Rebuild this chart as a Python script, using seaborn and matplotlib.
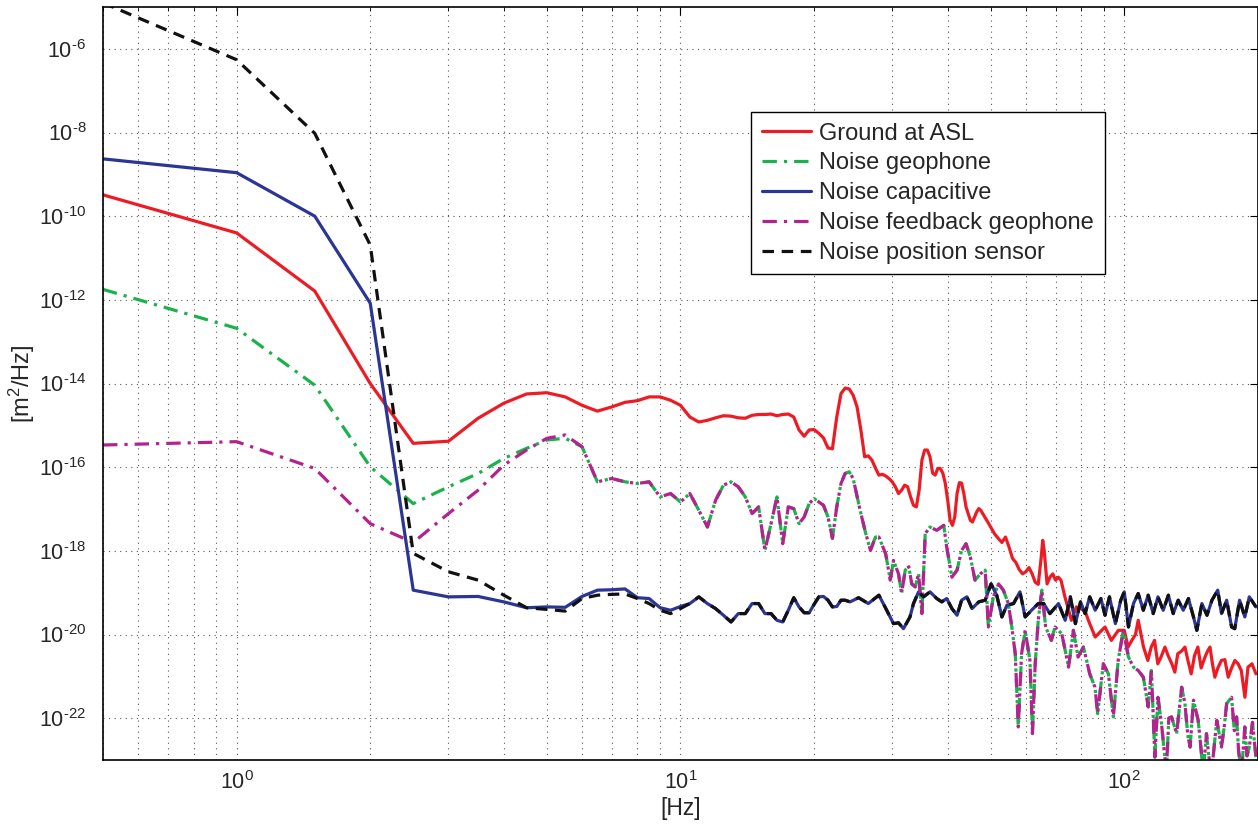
import numpy as np
import matplotlib
matplotlib.use("Agg")
import matplotlib.pyplot as plt
from matplotlib.ticker import LogLocator, NullLocator, NullFormatter, FuncFormatter
import seaborn as sns

# values are log10 of the PSD in m^2/Hz

# ground motion at ASL (red)
ground_f_low = [0.5, 1, 1.5, 2, 2.5, 3, 3.5, 4, 4.5, 5,
                5.5, 6, 6.5, 7, 7.5, 8, 8.5, 9, 9.5, 10,
                10.5, 11, 11.5, 12, 12.5, 13, 13.5, 14, 14.5, 15,
                15.5, 16, 16.5, 17, 17.5, 18, 18.5, 19, 19.5, 20,
                20.5, 21, 21.5, 22, 22.5, 23, 23.5, 24, 24.5, 25,
                25.5, 26, 26.5, 27, 27.5, 28, 28.5, 29, 29.5, 30,
                30.5, 31, 31.5, 32, 32.5, 33, 33.5, 34, 34.5, 35,
                35.5, 36, 36.5, 37, 37.5, 38, 38.5, 39, 39.5, 40,
                40.5, 41, 41.5, 42, 42.5, 43, 43.5, 44, 44.5, 45,
                45.5, 46, 46.5, 47, 47.5, 48, 48.5, 49, 49.5, 50]
ground_log_low = [-9.49, -10.40, -11.79, -14.00, -15.43, -15.38, -14.83, -14.47, -14.25, -14.22,
                  -14.32, -14.52, -14.66, -14.56, -14.45, -14.41, -14.32, -14.32, -14.40, -14.52,
                  -14.80, -14.92, -14.88, -14.82, -14.77, -14.78, -14.82, -14.83, -14.76, -14.74,
                  -14.74, -14.73, -14.77, -14.74, -14.73, -14.80, -15.11, -15.26, -15.11, -15.10,
                  -15.19, -15.30, -15.54, -15.56, -14.80, -14.24, -14.11, -14.13, -14.28, -14.56,
                  -15.11, -15.75, -15.73, -15.83, -16.02, -16.19, -16.17, -16.21, -16.27, -16.35,
                  -16.47, -16.63, -16.55, -16.43, -16.47, -16.71, -16.91, -16.95, -16.55, -15.83,
                  -15.59, -15.59, -15.75, -16.14, -16.19, -16.03, -16.03, -16.14, -16.38, -16.78,
                  -17.26, -17.39, -17.19, -16.63, -16.37, -16.38, -16.63, -16.95, -17.11, -17.27,
                  -17.31, -17.19, -17.07, -16.99, -17.03, -17.11, -17.19, -17.27, -17.35, -17.43]
ground_f_high = [51, 52, 53, 54, 55, 56, 57, 58, 59, 60,
                 61, 62, 63, 64, 65, 65.5, 66, 67, 68, 69,
                 70, 71, 72, 73.5, 76, 78, 81.5, 83, 86, 90.5,
                 93.5, 97, 100, 102, 104, 106, 107.5, 110.5, 113, 115,
                 117, 119, 121, 123.5, 125.5, 128, 130, 132, 134.5, 137,
                 139, 141.5, 144, 146.5, 149, 152, 154, 156, 158, 160,
                 162.5, 165.5, 168.5, 171.5, 174.5, 177.5, 180.5, 183.5, 187, 190,
                 194, 198]
ground_log_high = [-17.59, -17.70, -17.80, -17.67, -17.91, -18.18, -18.28, -18.45, -18.55, -18.50,
                   -18.40, -18.55, -18.75, -18.80, -18.15, -17.75, -17.99, -18.79, -18.63, -18.55,
                   -18.70, -18.63, -18.70, -19.10, -19.66, -19.34, -19.42, -19.66, -20.06, -19.82,
                   -20.14, -19.90, -19.90, -20.30, -20.14, -20.00, -19.66, -20.30, -20.62, -20.30,
                   -20.14, -20.70, -20.54, -20.30, -20.50, -20.70, -20.90, -20.46, -20.40, -20.30,
                   -20.60, -20.94, -20.50, -20.30, -20.80, -20.54, -20.40, -20.30, -20.70, -21.02,
                   -20.80, -20.62, -20.60, -21.02, -20.80, -20.62, -20.70, -20.86, -21.50, -20.78,
                   -20.70, -20.94]

# geophone noise (green) and feedback geophone noise (magenta): same above 6 Hz
geo_f_low = [0.5, 1, 1.5, 2, 2.5, 3, 3.5, 4, 4.5, 5, 5.5]
geo_log_low = [-11.75, -12.68, -14.04, -15.99, -16.87, -16.47, -16.15, -15.79, -15.55, -15.35, -15.31]
fb_log_low = [-15.47, -15.39, -16.03, -17.35, -17.80, -17.11, -16.55, -15.95, -15.59, -15.31, -15.23]
geo_f_high = [6, 6.5, 7, 7.5, 8, 8.5, 9, 9.5, 10, 10.5,
              11, 11.5, 12, 12.5, 13, 13.5, 14, 14.5, 15, 15.5,
              16, 16.5, 17, 17.5, 18, 18.5, 19, 19.5, 20, 20.5,
              21, 21.5, 22, 22.5, 23, 23.5, 24, 24.5, 25.4, 26.1,
              26.8, 27.5, 28, 29, 29.7, 30.2, 31, 31.5, 32.1, 32.7,
              33.2, 33.8, 34.4, 35, 35.6, 36.5, 37.8, 39.2, 39.8, 40.9,
              42, 43, 44, 45, 46.1, 47.4, 48.6, 49.4, 50.7, 52.1,
              53.4, 54.8, 55.8, 56.8, 57.7, 58.7, 59.8, 61.3, 62.1, 63,
              64, 65.2, 66.5, 68.5, 69.8, 72.3, 74.9, 76.8, 78.7, 80.9,
              83.6, 85.9, 87.1, 89.7, 92.1, 94.5, 96.9, 99.5, 102.2, 104.9,
              107.5, 110.4, 113.2, 115.1, 117.2, 119.1, 121.3, 124.4, 126, 127.8,
              131.2, 134.7, 137, 139, 140.7, 143.2, 146.7, 148.5, 150.6, 153.2,
              155, 157.3, 161.6, 165.6, 168, 170.1, 174.5, 177, 179.1, 181,
              183.7, 186.9, 189, 191.3, 194.5, 198]
geo_log_high = [-15.51, -16.35, -16.27, -16.35, -16.39, -16.35, -16.71, -16.63, -16.83, -16.63,
                -17.03, -17.43, -16.79, -16.43, -16.35, -16.47, -16.71, -17.11, -16.95, -17.99,
                -17.35, -16.71, -17.83, -16.95, -16.99, -17.35, -17.19, -16.87, -16.75, -16.83,
                -16.91, -17.19, -17.70, -16.95, -16.39, -16.15, -16.11, -16.27, -17.03, -17.55,
                -17.99, -17.67, -17.67, -18.07, -18.70, -18.23, -18.55, -19.02, -18.46, -18.38,
                -18.79, -18.86, -18.55, -19.50, -17.59, -17.43, -17.51, -17.39, -17.91, -18.63,
                -18.46, -17.99, -17.83, -18.15, -18.70, -18.55, -18.46, -19.82, -19.10, -18.79,
                -18.94, -19.26, -19.82, -20.46, -22.21, -20.46, -19.90, -20.62, -22.37, -20.70,
                -19.66, -18.94, -19.82, -20.14, -19.82, -19.98, -20.78, -19.90, -20.54, -20.30,
                -20.94, -21.26, -21.89, -20.70, -20.94, -21.97, -20.62, -19.90, -20.54, -20.78,
                -20.86, -21.02, -21.73, -20.86, -22.93, -21.50, -22.13, -23.30, -22.00, -21.97,
                -22.37, -21.26, -21.65, -22.40, -22.69, -21.57, -22.05, -22.60, -23.30, -22.37,
                -22.90, -23.30, -22.05, -22.69, -22.20, -21.65, -21.50, -22.30, -21.97, -22.80,
                -23.30, -22.21, -22.90, -22.69, -22.10, -22.93]

# capacitive sensor noise (blue) and position sensor noise (black): same above 10 Hz
cap_f_low = [0.5, 1, 1.5, 2, 2.5, 3, 3.5, 4, 4.5, 5,
             5.5, 6, 6.5, 7, 7.5, 8, 8.5, 9, 9.5, 10]
cap_log_low = [-8.63, -8.96, -10.00, -12.08, -18.94, -19.10, -19.09, -19.22, -19.36, -19.34,
               -19.35, -19.09, -18.94, -18.93, -18.91, -19.12, -19.14, -19.36, -19.42, -19.33]
pos_log_low = [-4.90, -6.26, -8.02, -10.69, -18.06, -18.50, -18.70, -19.06, -19.36, -19.40,
               -19.44, -19.14, -19.06, -19.04, -19.03, -19.14, -19.26, -19.42, -19.50, -19.38]
sensor_f_high = [10.5, 11, 11.5, 12, 12.5, 13, 13.5, 14, 14.5, 15,
                 15.5, 16, 16.5, 17, 17.5, 18, 18.5, 19, 19.5, 20,
                 20.5, 21, 21.5, 22, 22.5, 23, 23.5, 24.1, 25.2, 26.5,
                 28, 28.9, 30.2, 31, 31.8, 32.9, 33.5, 34.4, 35.3, 36.5,
                 37.8, 38.8, 39.8, 40.9, 42, 43, 44.2, 45.4, 47, 48.6,
                 50.1, 51.6, 53, 54.4, 56.3, 58.2, 59.8, 61.8, 64, 65.8,
                 68, 71.1, 73.6, 75.6, 77.6, 79.7, 81.6, 83.6, 86, 88.6,
                 90.5, 92.6, 95.5, 98.2, 100, 102.2, 104.9, 107.5, 110.4, 113.2,
                 116.2, 119.1, 122.4, 125.7, 128.9, 132.3, 135.8, 139.5, 143.2, 145.7,
                 149.6, 153.6, 157.6, 162.4, 165.6, 170.1, 174.5, 177.4, 181.9, 186.9,
                 191.3, 198]
sensor_log_high = [-19.26, -19.10, -19.26, -19.38, -19.54, -19.70, -19.50, -19.50, -19.26, -19.26,
                   -19.50, -19.50, -19.66, -19.70, -19.42, -19.12, -19.34, -19.48, -19.48, -19.28,
                   -19.10, -19.09, -19.18, -19.34, -19.33, -19.18, -19.18, -19.22, -19.12, -19.26,
                   -19.06, -19.34, -19.74, -19.72, -19.86, -19.58, -19.26, -18.98, -19.10, -18.98,
                   -19.14, -19.22, -19.14, -19.38, -19.54, -19.18, -19.10, -19.38, -19.22, -19.18,
                   -18.79, -19.06, -19.58, -19.30, -19.26, -18.98, -19.58, -19.42, -19.26, -19.26,
                   -19.50, -19.26, -19.66, -19.10, -19.74, -19.22, -19.50, -19.10, -19.42, -19.14,
                   -19.54, -19.10, -19.74, -19.18, -18.98, -19.82, -19.26, -19.02, -19.42, -19.06,
                   -19.50, -19.10, -19.42, -19.06, -19.50, -19.18, -19.42, -19.14, -19.58, -19.90,
                   -19.26, -19.54, -19.18, -18.94, -19.50, -19.18, -19.82, -19.86, -19.18, -19.58,
                   -19.10, -19.34]

y_ticks = [1e-22, 1e-20, 1e-18, 1e-16, 1e-14, 1e-12, 1e-10, 1e-8, 1e-6]

sns.set_style("white")
plt.rcParams["font.family"] = ["Liberation Sans", "DejaVu Sans"]
plt.rcParams["mathtext.fontset"] = "custom"
plt.rcParams["mathtext.rm"] = "Liberation Sans"
plt.rcParams["mathtext.it"] = "Liberation Sans:italic"
plt.rcParams["mathtext.sf"] = "Liberation Sans"
plt.rcParams["mathtext.default"] = "regular"


def psd(logs):
    return 10.0 ** np.asarray(logs)


def pow10_label(v, pos):
    # matlab style: short hyphen in the exponent
    e = int(round(np.log10(v)))
    exp = str(e).replace("-", "\u2010")
    return r"$10^{%s}$" % exp


series = [
    ("Ground at ASL", ground_f_low + ground_f_high, ground_log_low + ground_log_high,
     "#ED1C24", "-"),
    ("Noise geophone", geo_f_low + geo_f_high, geo_log_low + geo_log_high,
     "#1BB14C", (0, (4.5, 2.2, 1, 2.2))),
    ("Noise capacitive", cap_f_low + sensor_f_high, cap_log_low + sensor_log_high,
     "#2B3594", "-"),
    ("Noise feedback geophone", geo_f_low + geo_f_high, fb_log_low + geo_log_high,
     "#B3228F", (0, (4.5, 2.2, 1, 2.2))),
    ("Noise position sensor", cap_f_low + sensor_f_high, pos_log_low + sensor_log_high,
     "#111111", (0, (3.6, 2.4))),
]

fig = plt.figure(figsize=(12.58, 8.27), dpi=100)
ax = fig.add_axes([0.0819, 0.081, 0.918, 0.9105])

for label, f, logs, color, ls in series:
    sns.lineplot(x=np.asarray(f), y=psd(logs), ax=ax, label=label, color=color,
                 linestyle=ls, linewidth=2.3, estimator=None)

ax.set_xscale("log")
ax.set_yscale("log")
ax.set_xlim(0.5, 200)
ax.set_ylim(1e-23, 1e-5)
ax.set_yticks(y_ticks)
ax.yaxis.set_minor_locator(NullLocator())
ax.xaxis.set_minor_locator(LogLocator(base=10, subs=np.arange(2, 10)))
ax.xaxis.set_minor_formatter(NullFormatter())
ax.xaxis.set_major_formatter(FuncFormatter(pow10_label))
ax.yaxis.set_major_formatter(FuncFormatter(pow10_label))

ax.grid(which="major", axis="both", linestyle=(0, (1, 4)), color="0.35", linewidth=0.8)
ax.grid(which="minor", axis="x", linestyle=(0, (1, 4)), color="0.35", linewidth=0.8)

ax.tick_params(which="both", direction="in", top=True, right=True, labelsize=15.5, color="black")
ax.tick_params(which="major", length=6, width=0.8)
ax.tick_params(which="minor", length=3, width=0.6)
ax.tick_params(axis="y", which="major", pad=12)
ax.tick_params(axis="x", which="major", pad=8)
for sp in ax.spines.values():
    sp.set_color("black")
    sp.set_linewidth(1.2)

ax.set_xlabel("[Hz]", fontsize=16.5)
ax.set_ylabel(r"[m$^2$/Hz]", fontsize=17)
ax.xaxis.set_label_coords(0.5, -0.049)
ax.yaxis.set_label_coords(-0.057, 0.5)

leg = ax.legend(loc="upper left", bbox_to_anchor=(0.561, 0.8606), frameon=True,
                fancybox=False, edgecolor="black", framealpha=1, fontsize=17,
                handlelength=2.1, handletextpad=0.35, labelspacing=0.33,
                borderpad=0.45, borderaxespad=0)
leg.get_frame().set_linewidth(1.0)

fig.savefig("out.png", dpi=100)
